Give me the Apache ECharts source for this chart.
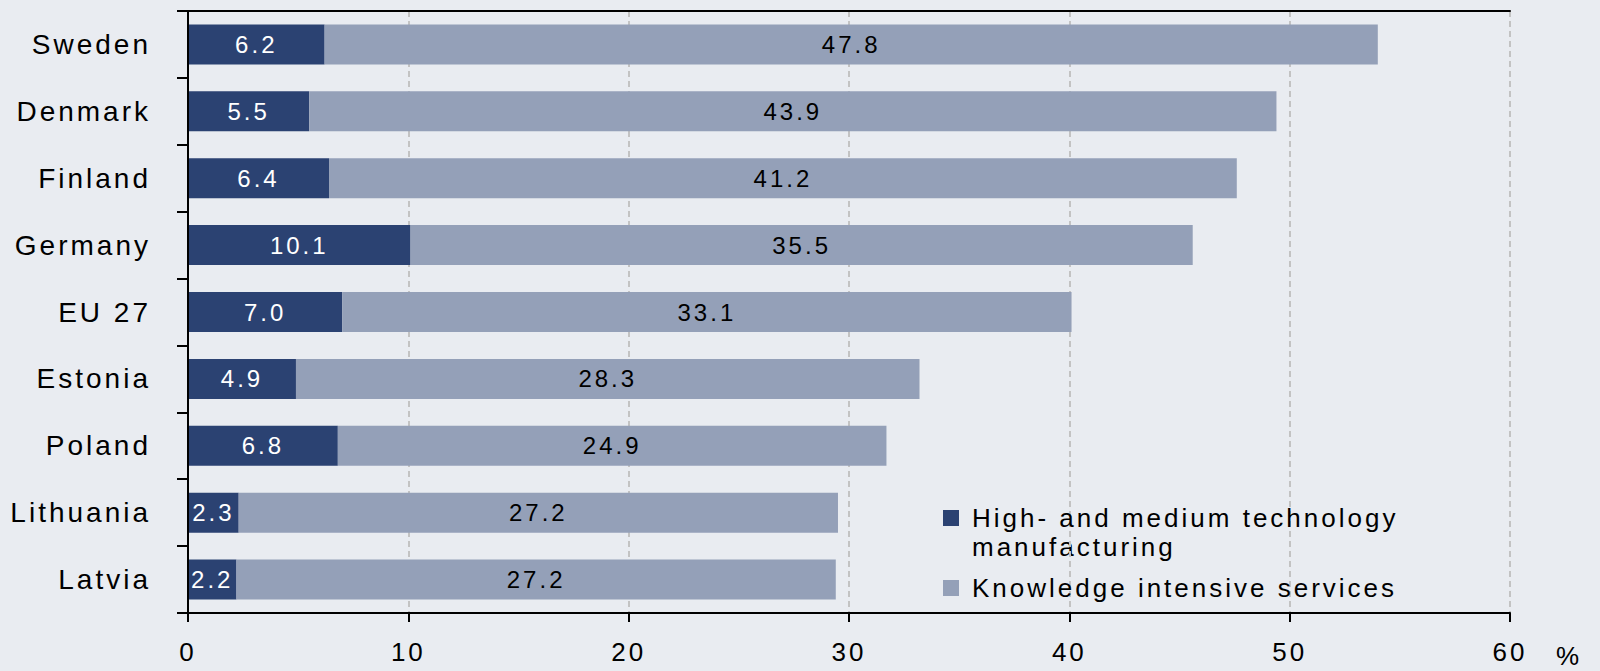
<!DOCTYPE html>
<html>
<head>
<meta charset="utf-8">
<script src="https://cdn.jsdelivr.net/npm/echarts@6/dist/echarts.min.js"></script>
<style>
html,body{margin:0;padding:0;background:#e9ecf1;}
#main{width:1600px;height:671px;}
#main text{letter-spacing:3px;}
</style>
</head>
<body>
<div id="main"></div>
<script>
const categories = ['Sweden','Denmark','Finland','Germany','EU 27','Estonia','Poland','Lithuania','Latvia'];
const hmtValues = [6.2, 5.5, 6.4, 10.1, 7.0, 4.9, 6.8, 2.3, 2.2];
const kisValues = [47.8, 43.9, 41.2, 35.5, 33.1, 28.3, 24.9, 27.2, 27.2];
const seriesNames = ['High- and medium technology', 'Knowledge intensive services'];
const legendSecondLine = 'manufacturing';
const xTicks = [0, 10, 20, 30, 40, 50, 60];
const unitLabel = '%';

const FONT = '"Liberation Sans", Arial, sans-serif';
const chart = echarts.init(document.getElementById('main'), null, {renderer: 'svg'});
const frameLine = {show: true, lineStyle: {color: '#000', width: 2}};
chart.setOption({
  backgroundColor: '#e9ecf1',
  animation: false,
  grid: {left: 188, right: 90, top: 11, bottom: 58},
  xAxis: [{
    type: 'value', min: xTicks[0], max: xTicks[xTicks.length-1], interval: 10,
    axisLine: frameLine,
    axisTick: {show: true, length: 9, lineStyle: {color: '#000', width: 2}},
    axisLabel: {fontFamily: FONT, fontSize: 26, color: '#000', margin: 26},
    splitLine: {show: true, lineStyle: {color: '#c3c3c3', width: 2, type: [6, 4]}}
  }, {
    type: 'value', position: 'top', min: xTicks[0], max: xTicks[xTicks.length-1], interval: 10,
    axisLine: frameLine, axisTick: {show: false}, axisLabel: {show: false}, splitLine: {show: false}, z: 10
  }],
  yAxis: [{
    type: 'category', data: categories, inverse: true,
    axisLine: frameLine,
    axisTick: {show: true, length: 11, lineStyle: {color: '#000', width: 2}},
    axisLabel: {fontFamily: FONT, fontSize: 28, color: '#000', margin: 37},
    z: 10
  }, {
    type: 'category', data: categories, inverse: true, position: 'right',
    axisLine: frameLine, axisTick: {show: false}, axisLabel: {show: false}, splitLine: {show: false}, z: 10
  }],
  legend: {
    orient: 'vertical', left: 938, top: 500, itemWidth: 16, itemHeight: 16, itemGap: 44,
    icon: 'rect',
    textStyle: {fontFamily: FONT, fontSize: 26, color: '#000', padding: [0, 0, 0, 8]},
    data: seriesNames
  },
  graphic: [{
    type: 'text', left: 972, top: 534,
    style: {text: legendSecondLine, font: '26px ' + FONT, fill: '#000'}
  }, {
    type: 'text', left: 1556, top: 643,
    style: {text: unitLabel, font: '26px ' + FONT, fill: '#000'}
  }],
  series: [
    {
      name: seriesNames[0], type: 'bar', stack: 'a', data: hmtValues, barWidth: 40,
      itemStyle: {color: '#2b4272'},
      label: {show: true, position: 'inside', color: '#fff', fontFamily: FONT, fontSize: 24,
        formatter: p => p.value.toFixed(1)}
    },
    {
      name: seriesNames[1], type: 'bar', stack: 'a', data: kisValues, barWidth: 40,
      itemStyle: {color: '#94a0b8'},
      label: {show: true, position: 'inside', color: '#000', fontFamily: FONT, fontSize: 24,
        formatter: p => p.value.toFixed(1)}
    }
  ]
});
</script>
</body>
</html>
